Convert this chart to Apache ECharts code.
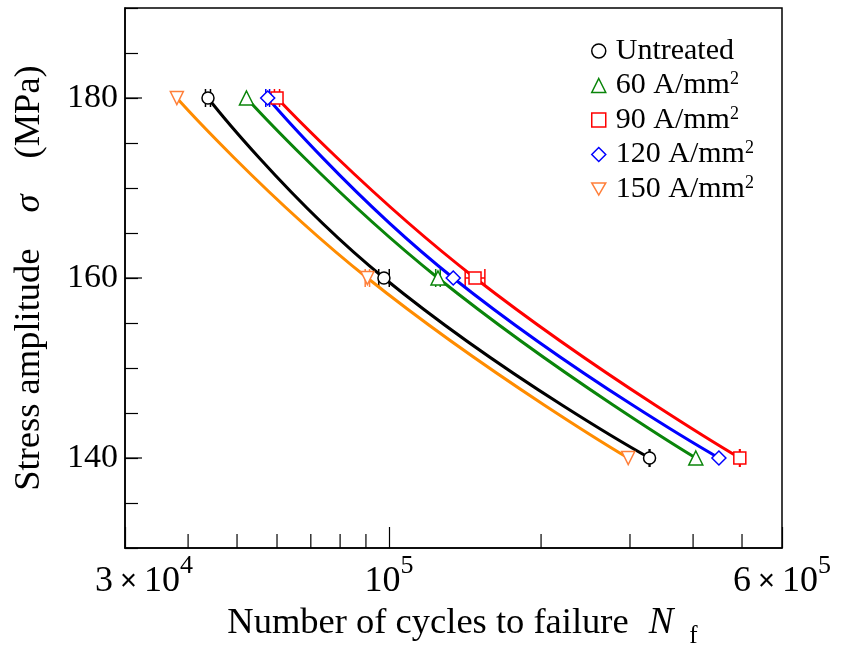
<!DOCTYPE html>
<html>
<head>
<meta charset="utf-8">
<script src="https://cdn.jsdelivr.net/npm/echarts@6/dist/echarts.min.js"></script>
<style>html,body{margin:0;background:#fff}#chart{width:852px;height:655px}</style>
</head>
<body>
<div id="chart"></div>
<script>
// stress levels (MPa) shared by every group
const stressLevels = [180, 160, 140];

// cycles to failure
const untreatedN = [43800, 97700, 328000];
const a60N = [52200, 125000, 405000];
const a90N = [60000, 148000, 495000];
const a120N = [57500, 134000, 450000];
const a150N = [38000, 90600, 297600];

// scatter ranges [low, high] per stress level (null = none drawn)
const untreatedErr = [[43300, 44300], [95400, 100100], [327400, 328600]];
const a60Err = [null, [123700, 126300], null];
const a90Err = [[59300, 60700], [141500, 154800], [494300, 495700]];
const a120Err = [[57000, 58000], null, null];
const a150Err = [null, [89700, 91500], null];

const seriesNames = ['Untreated', '60 A/mm2', '90 A/mm2', '120 A/mm2', '150 A/mm2'];

// axes
const xMin = 30000, xMax = 600000;
const yMin = 130, yMax = 190;
const xTickLabels = [[30000, '3', '4'], [100000, '', '5'], [600000, '6', '5']];
const xMinorTicks = [40000, 50000, 60000, 70000, 80000, 90000, 200000, 300000, 400000, 500000];
const yMajorTicks = [140, 160, 180];

const serif = '"Liberation Serif", "Times New Roman", serif';
const downTri = 'path://M0,0L10,0L5,8.66Z';

const groups = [
  { name: seriesNames[0], n: untreatedN, err: untreatedErr, color: '#000000', mark: '#000000', symbol: 'circle', size: 12 },
  { name: seriesNames[1], n: a60N, err: a60Err, color: '#0a850a', mark: '#0a850a', symbol: 'triangle', size: 14 },
  { name: seriesNames[2], n: a90N, err: a90Err, color: '#ff0000', mark: '#ff0000', symbol: 'rect', size: 12 },
  { name: seriesNames[3], n: a120N, err: a120Err, color: '#0000ff', mark: '#0000ff', symbol: 'diamond', size: 14 },
  { name: seriesNames[4], n: a150N, err: a150Err, color: '#ff8c00', mark: '#ff7f3a', symbol: downTri, size: 13 },
];

function errRenderer(color) {
  return function (params, api) {
    const lo = api.coord([api.value(0), api.value(2)]);
    const hi = api.coord([api.value(1), api.value(2)]);
    const h = 9;
    const st = { stroke: color, lineWidth: 1.5 };
    return {
      type: 'group',
      children: [
        { type: 'line', shape: { x1: lo[0], y1: lo[1], x2: hi[0], y2: hi[1] }, style: st },
        { type: 'line', shape: { x1: lo[0], y1: lo[1] - h, x2: lo[0], y2: lo[1] + h }, style: st },
        { type: 'line', shape: { x1: hi[0], y1: hi[1] - h, x2: hi[0], y2: hi[1] + h }, style: st },
      ],
    };
  };
}

const series = [];
groups.forEach((g) => {
  const errData = [];
  g.err.forEach((e, i) => {
    if (e) errData.push([e[0], e[1], stressLevels[i]]);
  });
  series.push({
    type: 'custom',
    name: g.name + ' err',
    z: 2,
    silent: true,
    encode: { x: [0, 1], y: 2 },
    renderItem: errRenderer(g.mark),
    data: errData,
  });
  series.push({
    type: 'line',
    name: g.name,
    z: 3,
    smooth: 0.5,
    symbol: g.symbol,
    symbolSize: g.size,
    showAllSymbol: true,
    itemStyle: { color: '#ffffff', borderColor: g.mark, borderWidth: 1.5 },
    lineStyle: { color: g.color, width: 3 },
    data: g.n.map((v, i) => [v, stressLevels[i]]),
  });
});

// minor x ticks (log axis only ticks decades) and longer major y ticks
series.push({
  type: 'custom',
  name: 'xminor',
  silent: true,
  z: 5,
  renderItem: function (params, api) {
    const p = api.coord([api.value(0), yMin]);
    return { type: 'line', shape: { x1: p[0], y1: p[1], x2: p[0], y2: p[1] - 14 }, style: { stroke: '#000', lineWidth: 1.2 } };
  },
  data: xMinorTicks.map((v) => [v, yMin]),
});
series.push({
  type: 'custom',
  name: 'ymajor',
  silent: true,
  z: 5,
  renderItem: function (params, api) {
    const p = api.coord([xMin, api.value(1)]);
    return { type: 'line', shape: { x1: p[0], y1: p[1], x2: p[0] + 17, y2: p[1] }, style: { stroke: '#000', lineWidth: 1.2 } };
  },
  data: yMajorTicks.map((v) => [xMin, v]),
});

const chart = echarts.init(document.getElementById('chart'));
chart.setOption({
  animation: false,
  backgroundColor: '#fff',
  grid: { left: 125, right: 70, top: 8, bottom: 107, show: true, borderColor: '#000', borderWidth: 1.5 },
  legend: {
    orient: 'vertical',
    left: 586,
    top: 31,
    itemWidth: 14,
    itemHeight: 14,
    itemGap: 4.5,
    itemStyle: { borderWidth: 1.5 },
    data: groups.map((g) => ({ name: g.name, icon: g.symbol })),
    formatter: function (name) {
      if (name === 'Untreated') return '{t|Untreated}';
      return '{t|' + name.slice(0, -1) + '}{s|2}';
    },
    textStyle: {
      color: '#000',
      rich: {
        t: { fontFamily: serif, fontSize: 30, lineHeight: 30, color: '#000', padding: [0, 0, 0, 5] },
        s: { fontFamily: serif, fontSize: 18, lineHeight: 18, color: '#000', verticalAlign: 'top' },
      },
    },
  },
  xAxis: {
    type: 'log',
    logBase: 10,
    min: xMin,
    max: xMax,
    name: '{t|Number of cycles to failure}{i|N}{f|f}',
    nameLocation: 'middle',
    nameGap: 32,
    nameTextStyle: {
      rich: {
        t: { fontFamily: serif, fontSize: 36.5, lineHeight: 52, color: '#000', padding: [0, 0, 0, 18] },
        i: { fontFamily: serif, fontSize: 37, lineHeight: 52, fontStyle: 'italic', color: '#000', padding: [0, 0, 0, 20] },
        f: { fontFamily: serif, fontSize: 25, lineHeight: 22, color: '#000', verticalAlign: 'bottom', padding: [0, 0, 0, 16] },
      },
    },
    splitLine: { show: false },
    axisLine: { show: true, lineStyle: { color: '#000', width: 1.5 } },
    axisTick: { show: true, inside: true, length: 21, lineStyle: { color: '#000', width: 1.2 } },
    axisLabel: {
      showMinLabel: true,
      showMaxLabel: true,
      margin: 0,
      formatter: function (v) {
        const t = xTickLabels.find((d) => Math.abs(d[0] - v) / d[0] < 1e-3);
        if (!t) return '';
        if (t[1] === '') return '{b|10}{s|' + t[2] + '}';
        return '{' + (t[0] === xMin ? 'm0' : 'm') + '|' + t[1] + '}{x|×}{b|10}{s|' + t[2] + '}';
      },
      rich: {
        m: { fontFamily: serif, fontSize: 36, lineHeight: 68, color: '#000' },
        m0: { fontFamily: serif, fontSize: 36, lineHeight: 68, color: '#000', padding: [0, 0, 0, 38] },
        x: { fontFamily: '"Liberation Sans", Arial, sans-serif', fontSize: 29, lineHeight: 68, color: '#000', padding: [0, 7, 0, 7] },
        b: { fontFamily: serif, fontSize: 36, lineHeight: 68, color: '#000' },
        s: { fontFamily: serif, fontSize: 26, lineHeight: 26, color: '#000', verticalAlign: 'top', padding: [5, 0, 0, 0] },
      },
    },
  },
  yAxis: {
    type: 'value',
    min: yMin,
    max: yMax,
    interval: 5,
    name: '{t|Stress amplitude}{i|σ}{t|(MPa)}',
    nameLocation: 'middle',
    nameGap: 74,
    nameTextStyle: {
      rich: {
        t: { fontFamily: serif, fontSize: 36.5, lineHeight: 44, color: '#000' },
        i: { fontFamily: serif, fontSize: 36.5, lineHeight: 44, fontStyle: 'italic', color: '#000', padding: [0, 36, 0, 36] },
      },
    },
    splitLine: { show: false },
    axisLine: { show: true, lineStyle: { color: '#000', width: 1.5 } },
    axisTick: { show: true, inside: true, length: 13, lineStyle: { color: '#000', width: 1.2 } },
    axisLabel: {
      margin: 7,
      color: '#000',
      fontFamily: serif,
      fontSize: 34,
      formatter: function (v) {
        return yMajorTicks.indexOf(v) >= 0 ? String(v) : '';
      },
    },
  },
  series: series,
});
</script>
</body>
</html>
